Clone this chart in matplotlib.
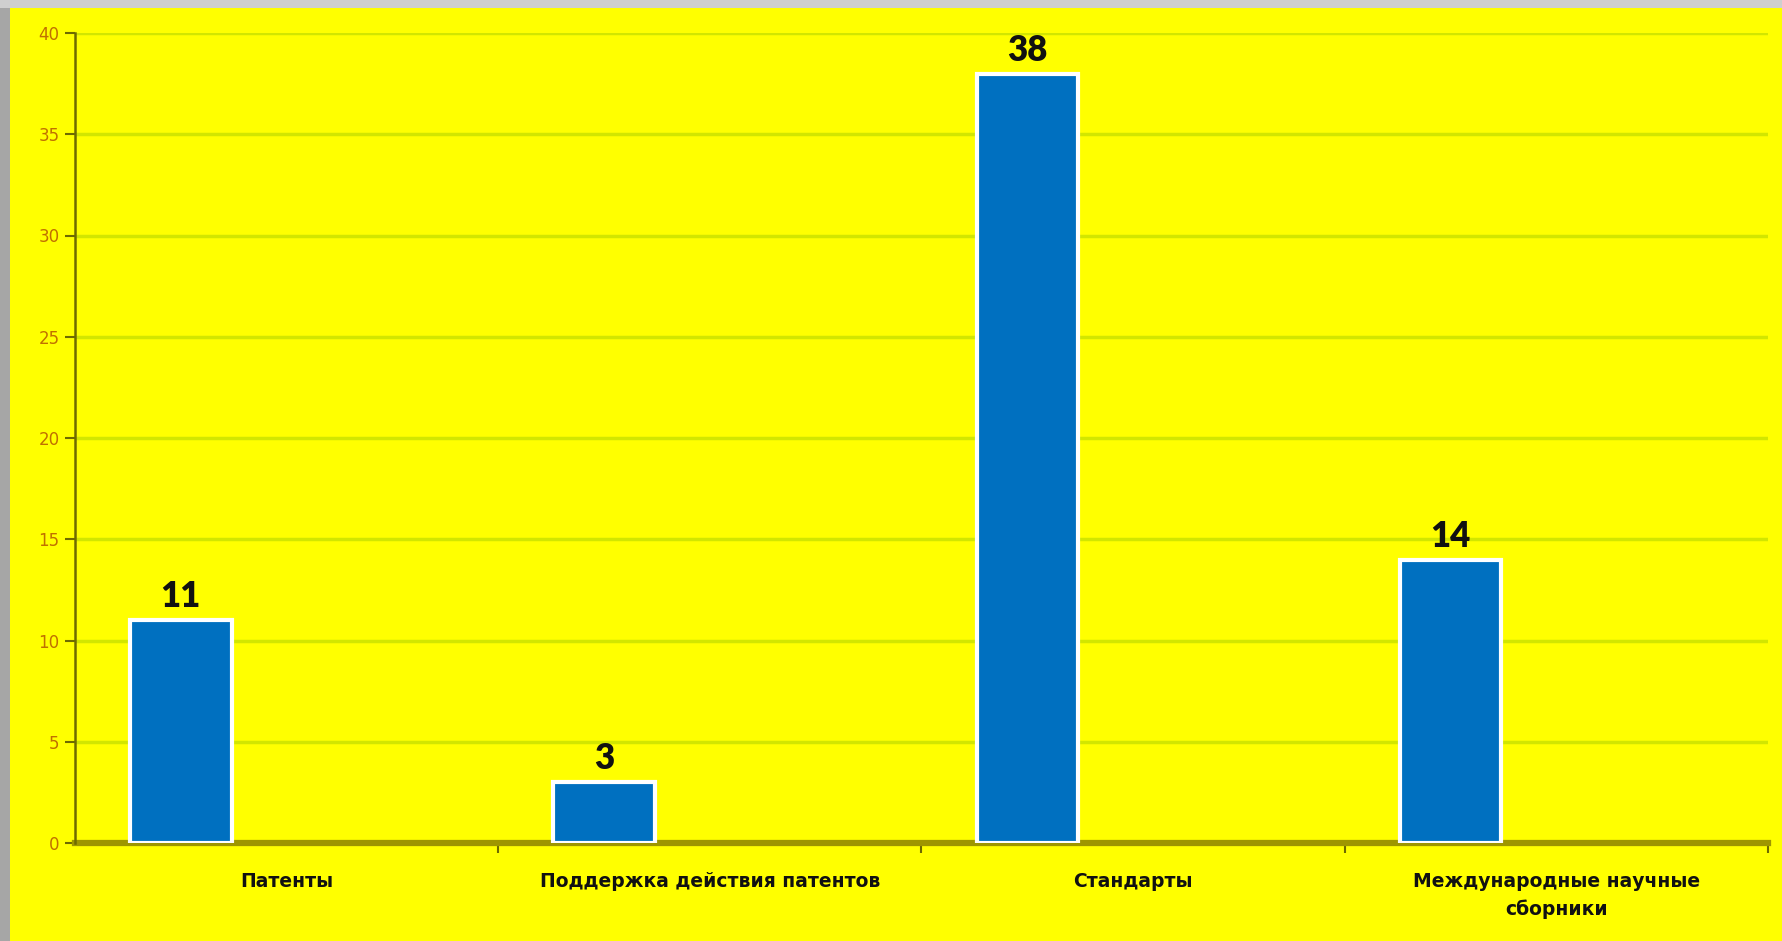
import matplotlib
matplotlib.use("Agg")
import matplotlib.pyplot as plt
from matplotlib.patches import Rectangle
import numpy as np

categories = ["Патенты", "Поддержка действия патентов", "Стандарты",
              "Международные научные\nсборники"]
values = [11, 3, 38, 14]
y_ticks = [0, 5, 10, 15, 20, 25, 30, 35, 40]

YELLOW = "#ffff00"
BLUE = "#0070c0"
GRID = "#d2e600"
AXIS = "#6e6a00"
TICK_TXT = "#c07000"

fig = plt.figure(figsize=(17.83, 9.41), dpi=100, facecolor=YELLOW)

# grey slide frame at the left and top edges
fig.patches.append(Rectangle((0, 0), 10 / 1783, 1, transform=fig.transFigure,
                             facecolor="#a6a6a6", edgecolor="none", zorder=0))
fig.patches.append(Rectangle((0, 1 - 8 / 941), 1, 8 / 941, transform=fig.transFigure,
                             facecolor="#cfcfcf", edgecolor="none", zorder=0))

ax = fig.add_axes([75 / 1783, 1 - 843 / 941, (1768 - 75) / 1783, (843 - 33) / 941])
ax.set_facecolor(YELLOW)

x = np.arange(len(categories))
bars = ax.bar(x - 0.25, values, width=0.24, color=BLUE, edgecolor="white",
              linewidth=3, zorder=3)

for b, v in zip(bars, values):
    ax.annotate(str(v), (b.get_x() + b.get_width() / 2, v),
                xytext=(0, 5), textcoords="offset points",
                ha="center", va="bottom", fontsize=25, fontweight="heavy",
                family="Lato", color="#111111", zorder=4)

ax.set_xlim(-0.5, len(categories) - 0.5)
ax.set_ylim(0, 40)
ax.set_yticks(y_ticks)
ax.yaxis.grid(True, color=GRID, linewidth=2.5, zorder=0)
ax.set_axisbelow(True)

ax.set_xticks(x)
ax.set_xticklabels(categories, fontsize=13.5, fontweight="bold", color="#111111",
                   linespacing=1.5)
ax.set_xticks(x + 0.5, minor=True)
ax.tick_params(axis="x", which="major", length=0, pad=21)
ax.tick_params(axis="x", which="minor", length=7, width=1.5, color=AXIS)
ax.tick_params(axis="y", length=7, width=1.5, color=AXIS, labelcolor=TICK_TXT,
               labelsize=12, pad=4)

for s in ["top", "right"]:
    ax.spines[s].set_visible(False)
ax.spines["left"].set_color(AXIS)
ax.spines["left"].set_linewidth(1.8)
ax.spines["bottom"].set_color("#9e9600")
ax.spines["bottom"].set_linewidth(4.5)
ax.spines["bottom"].set_zorder(2)

fig.savefig("out.png", dpi=100, facecolor=fig.get_facecolor())
